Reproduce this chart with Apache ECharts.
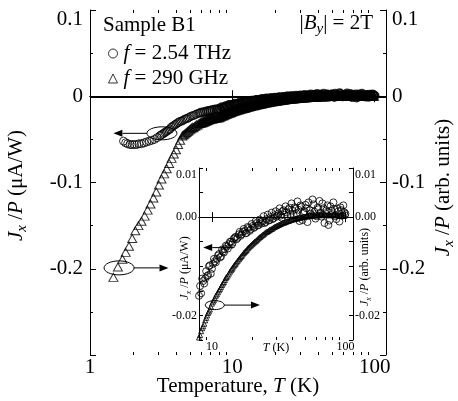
<!DOCTYPE html>
<html><head><meta charset="utf-8">
<script src="https://cdn.jsdelivr.net/npm/echarts@6/dist/echarts.min.js"></script>
<style>html,body{margin:0;padding:0;background:#fff}#c{width:458px;height:401px}</style>
</head><body><div id="c"></div>
<script>
// ---- data: 2.54 THz (circles) ----
const circT = [1.72,1.78,1.84,1.91,1.98,2.05,2.13,2.21,2.30,2.40,2.50,2.61,2.72,2.84,2.96,3.09,3.22,3.36,3.50,3.65,3.80,3.96,4.12,4.30,4.50,4.70,4.90,5.15,5.40,5.70,6.00,6.40,6.80,7.20,7.70,
 8.0,8.3,8.6,8.9,9.2,9.5,9.8,10.2,10.5,10.9,11.3,11.7,12.1,12.5,12.9,13.4,13.9,14.3,14.8,15.3,15.9,16.4,17.0,17.6,18.2,18.8,19.5,20.2,20.9,21.6,22.4,23.1,24.0,24.8,25.7,26.6,27.5,28.5,29.5,30.5,31.6,32.7,33.8,35.0,36.2,37.5,38.8,40.2,41.6,43.0,44.5,46.1,47.7,49.4,51.1,52.9,54.8,56.7,58.6,60.7,62.8,65.0,67.3,69.7,72.1,74.6,77.2,79.9,82.7,85.6,88.6,91.7,94.9,98.2,100];
const circV = [-0.052,-0.054,-0.055,-0.056,-0.056,-0.056,-0.056,-0.055,-0.055,-0.054,-0.053,-0.052,-0.051,-0.050,-0.048,-0.046,-0.044,-0.042,-0.040,-0.038,-0.035,-0.033,-0.031,-0.029,-0.028,-0.026,-0.025,-0.023,-0.022,-0.020,-0.019,-0.018,-0.017,-0.016,-0.015,
 -0.016,-0.0155,-0.013,-0.0125,-0.012,-0.010,-0.0115,-0.0095,-0.009,-0.0085,-0.0075,-0.008,-0.007,-0.0065,-0.006,-0.0055,-0.005,-0.0052,-0.0042,-0.0045,-0.0035,-0.0038,-0.003,-0.0028,-0.0032,-0.0022,-0.0025,-0.0018,-0.002,-0.0012,-0.0016,-0.001,-0.0008,-0.0012,-0.0004,-0.0007,0.0,-0.0004,0.0004,0.0001,0.0008,0.0003,0.0012,0.0005,0.0010,0.0016,0.0006,0.0013,0.0020,0.0008,0.0015,0.0024,-0.0006,0.0012,0.0018,0.0030,0.0007,0.0036,0.0011,0.0002,0.0016,0.0009,0.0028,-0.0012,0.0014,-0.0016,0.0022,0.0006,0.0016,-0.0004,0.0012,0.0020,0.0003,0.0010,0.0007];
const circT2 = [3.15,3.30,3.43,3.58,3.72,3.88,4.04,4.21,4.40,4.60,4.80,5.02,5.27,5.55,5.85,6.20,6.60,7.00,7.45,7.85,
 8.15,8.45,8.75,9.05,9.35,9.65,10.0,10.35,10.7,11.1,11.5,11.9,12.3,12.7,13.15,13.65,14.1,14.55,15.05,15.6,16.15,16.7,17.3,17.9,18.5,19.15,19.85,20.55,21.25,22.0,22.75,23.55,24.4,25.25,26.15,27.05,28.0,29.0,30.0,31.05,32.15,33.25,34.4,35.6,36.85,38.15,39.5,40.9,42.3,43.75,45.3,46.9,48.55,50.25,52.0,53.85,55.75,57.65,59.65,61.75,63.9,66.15,68.5,70.9,73.35,75.9,78.55,81.3,84.15,87.1,90.15,93.3,96.55,99.1];
const circV2 = [-0.045,-0.043,-0.041,-0.039,-0.036,-0.034,-0.032,-0.030,-0.029,-0.027,-0.026,-0.024,-0.0225,-0.021,-0.0195,-0.0185,-0.0175,-0.0165,-0.0155,-0.015,
 -0.0140,-0.0125,-0.0135,-0.0110,-0.0118,-0.0098,-0.0105,-0.0085,-0.0092,-0.0078,-0.0082,-0.0066,-0.0072,-0.0058,-0.0064,-0.0050,-0.0056,-0.0044,-0.0040,-0.0042,-0.0030,-0.0035,-0.0024,-0.0033,-0.0020,-0.0028,-0.0014,-0.0022,-0.0008,-0.0017,-0.0005,-0.0013,0.0002,-0.0010,0.0005,-0.0006,0.0009,-0.0002,0.0012,0.0003,0.0018,-0.0001,0.0014,0.0022,0.0002,0.0019,0.0028,0.0004,0.0017,0.0032,-0.0008,0.0021,0.0009,0.0025,-0.0010,0.0014,0.0004,0.0026,-0.0003,0.0019,0.0033,0.0001,0.0018,0.0008,0.0024,-0.0007,0.0013,0.0030,0.0002,0.0017,-0.0009,0.0014,0.0024,0.0004];
// ---- data: 290 GHz (triangles) ----
const triT = [1.46,1.57,1.69,1.78,1.88,1.98,2.08,2.19,2.30,2.42,2.54,2.66,2.79,2.92,3.05,3.18,3.32,3.46,3.60,3.74,3.88,4.02,4.16,4.30,4.45,4.60,4.76,4.92,5.08,5.25,5.42,5.60,5.80,6.00,6.20,6.40,6.60,6.85,7.10,7.35,7.65,
 8.0,8.3,8.6,8.9,9.2,9.5,9.8,10.2,10.5,10.9,11.3,11.7,12.1,12.5,12.9,13.4,13.9,14.3,14.8,15.3,15.9,16.4,17.0,17.6,18.2,18.8,19.5,20.2,20.9,21.6,22.4,23.1,24.0,24.8,25.7,26.6,27.5,28.5,29.5,30.5,31.6,32.7,33.8,35.0,36.2,37.5,38.8,40.2,41.6,43.0,44.5,46.1,47.7,49.4,51.1,52.9,54.8,56.7,58.6,60.7,62.8,65.0,67.3,69.7,72.1,74.6,77.2,79.9,82.7,85.6,88.6,91.7,94.9,98.2];
const triV = [-0.210,-0.198,-0.189,-0.181,-0.174,-0.165,-0.156,-0.150,-0.145,-0.139,-0.132,-0.125,-0.118,-0.111,-0.103,-0.096,-0.090,-0.084,-0.078,-0.072,-0.067,-0.062,-0.056,-0.051,-0.046,-0.044,-0.042,-0.040,-0.038,-0.036,-0.035,-0.033,-0.032,-0.031,-0.030,-0.029,-0.028,-0.027,-0.026,-0.0255,-0.025,
 -0.0245,-0.0232,-0.0222,-0.0210,-0.0200,-0.0192,-0.0182,-0.0172,-0.0165,-0.0157,-0.0149,-0.0142,-0.0135,-0.0128,-0.0122,-0.0115,-0.0108,-0.0103,-0.0097,-0.0092,-0.0086,-0.0081,-0.0076,-0.0071,-0.0067,-0.0062,-0.0058,-0.0054,-0.0050,-0.0047,-0.0043,-0.0040,-0.0036,-0.0033,-0.0030,-0.0028,-0.0025,-0.0023,-0.0020,-0.0018,-0.0016,-0.0014,-0.0012,-0.0011,-0.0009,-0.0008,-0.0006,-0.0005,-0.0004,-0.0003,-0.0002,-0.0001,0.0000,0.0001,0.0002,0.0002,0.0003,0.0003,0.0004,0.0004,0.0004,0.0005,0.0004,0.0005,0.0004,0.0005,0.0004,0.0004,0.0005,0.0004,0.0003,0.0004,0.0003,0.0003];
const triT2 = [4.52,4.68,4.84,5.00,5.16,5.33,5.51,5.70,5.90,6.10,6.30,6.50,6.72,6.97,7.22,7.50,7.82,
 8.15,8.45,8.75,9.05,9.35,9.65,10.0,10.35,10.7,11.1,11.5,11.9,12.3,12.7,13.15,13.65,14.1,14.55,15.05,15.6,16.15,16.7,17.3,17.9,18.5,19.15,19.85,20.55,21.25,22.0,22.75,23.55,24.4,25.25,26.15,27.05,28.0,29.0,30.0,31.05,32.15,33.25,34.4,35.6,36.85,38.15,39.5,40.9,42.3,43.75,45.3,46.9,48.55,50.25,52.0,53.85,55.75,57.65,59.65,61.75,63.9,66.15,68.5,70.9,73.35,75.9,78.55,81.3,84.15,87.1,90.15,93.3,96.55];
const triV2 = [-0.045,-0.043,-0.041,-0.039,-0.037,-0.0365,-0.0345,-0.0335,-0.0315,-0.0305,-0.0295,-0.0285,-0.0275,-0.0265,-0.026,-0.0255,-0.0248,
 -0.0240,-0.0226,-0.0217,-0.0205,-0.0195,-0.0188,-0.0176,-0.0169,-0.0160,-0.0153,-0.0146,-0.0138,-0.0132,-0.0124,-0.0119,-0.0111,-0.0106,-0.0100,-0.0095,-0.0089,-0.0084,-0.0079,-0.0073,-0.0069,-0.0064,-0.0060,-0.0056,-0.0052,-0.0049,-0.0045,-0.0041,-0.0038,-0.0035,-0.0031,-0.0029,-0.0026,-0.0024,-0.0021,-0.0019,-0.0017,-0.0015,-0.0013,-0.0011,-0.0010,-0.0008,-0.0007,-0.0005,-0.0004,-0.0003,-0.0002,-0.0001,0.0000,0.0001,0.0001,0.0002,0.0003,0.0003,0.0004,0.0003,0.0005,0.0004,0.0005,0.0004,0.0005,0.0004,0.0005,0.0004,0.0005,0.0004,0.0004,0.0003,0.0004,0.0003];
// ---- ticks / labels ----
const xDecades = [1, 10, 100];
const xDecadeLabels = ['1', '10', '100'];
const minorXTicks = [2,3,4,5,6,7,8,9,20,30,40,50,60,70,80,90];
const mainYTicks = [0.1, 0, -0.1, -0.2];
const mainYTickLabels = ['0.1', '0', '-0.1', '-0.2'];
const insetYTicks = [0.01, 0, -0.02];
const insetYTickLabels = ['0.01', '0.00', '-0.02'];
const insetMinT = 8;
const denseFromT = 6;

const FONT = 'Liberation Serif';
const pairs = (T, V, f) => T.map((t, i) => [t, V[i]]).filter(p => !f || f(p));
const both = (A, B, f) => pairs(A[0], A[1], f).concat(pairs(B[0], B[1], f));
const pick = (ticks, labels) => v => {
  const i = ticks.findIndex(t => Math.abs(t - v) < 1e-9);
  if (i < 0) return '';
  return i === 0 ? '{t|' + labels[i] + '}' : labels[i];
};
const decadeFmt = v => { const i = xDecades.findIndex(t => Math.abs(Math.log10(v) - Math.log10(t)) < 1e-6); return i >= 0 ? xDecadeLabels[i] : ''; };
const rich = fs => ({
  i: {fontFamily: FONT, fontStyle: 'italic', fontSize: fs, lineHeight: Math.round(fs * 1.3), color: '#000'},
  n: {fontFamily: FONT, fontSize: fs, lineHeight: Math.round(fs * 1.3), color: '#000'},
  s: {fontFamily: FONT, fontStyle: 'italic', fontSize: Math.round(fs * 0.7), verticalAlign: 'bottom', color: '#000'}
});
const line = {lineStyle: {color: '#000', width: 1}};

const chart = echarts.init(document.getElementById('c'), null, {renderer: 'canvas'});

function tickSeries(xi, yi, len) {
  return {
    type: 'custom', xAxisIndex: xi, yAxisIndex: yi, silent: true, clip: false, z: 10,
    data: minorXTicks.map(t => [t, 0]), encode: {x: 0, y: 1},
    renderItem: (params, api) => {
      const cs = params.coordSys;
      const x = Math.round(api.coord([api.value(0), api.value(1)])[0]) + 0.5;
      if (x < cs.x + 1 || x > cs.x + cs.width - 1) return null;
      const b = cs.y + cs.height, t = cs.y;
      return {type: 'group', children: [
        {type: 'line', shape: {x1: x, y1: b, x2: x, y2: b - len}, style: {stroke: '#000', lineWidth: 1}},
        {type: 'line', shape: {x1: x, y1: t, x2: x, y2: t + len}, style: {stroke: '#000', lineWidth: 1}}
      ]};
    }
  };
}

const sym = w => ({color: 'rgba(255,255,255,0)', borderColor: '#000', borderWidth: w});
const mainFS = 21, insetFS = 12;
const yLab = (fs, margin, pad) => ({
  fontFamily: FONT, fontSize: fs, color: '#000', margin: margin,
  rich: {t: {fontFamily: FONT, fontSize: fs, color: '#000', padding: [pad, 0, 0, 0]}}
});
const C = [circT, circV], C2 = [circT2, circV2], Tr = [triT, triV], Tr2 = [triT2, triV2];

const option = {
  animation: false,
  grid: [
    {left: 90, top: 10, width: 296, height: 345, containLabel: false, outerBoundsMode: 'none'},
    {left: 199, top: 168, width: 154, height: 172, containLabel: false, outerBoundsMode: 'none',
     show: true, backgroundColor: '#fff', borderWidth: 0, z: 5}
  ],
  legend: {
    left: 108, top: 43, orient: 'vertical', itemWidth: 9, itemHeight: 9, itemGap: 4, padding: 0,
    data: [{name: '2.54 THz', icon: 'circle'}, {name: '290 GHz', icon: 'triangle'}],
    itemStyle: {color: '#fff', borderColor: '#000', borderWidth: 1},
    formatter: n => '{i|f}{n| = ' + n + '}',
    textStyle: {rich: rich(mainFS), padding: [0, 0, 0, 1]}
  },
  xAxis: [
    {gridIndex: 0, type: 'log', min: 1, max: 120, position: 'bottom', axisLine: line,
     axisTick: {inside: true, length: 6, lineStyle: {color: '#000'}}, splitLine: {show: false},
     axisLabel: {formatter: decadeFmt, fontFamily: FONT, fontSize: mainFS, color: '#000', margin: 2},
     name: 'Temperature, {i|T}{n| (K)}', nameLocation: 'middle', nameGap: 18, nameMoveOverlap: false,
     nameTextStyle: {fontFamily: FONT, fontSize: mainFS, color: '#000', rich: rich(mainFS)}},
    {gridIndex: 0, type: 'log', min: 1, max: 120, position: 'top', axisLine: line,
     axisTick: {inside: true, length: 6, lineStyle: {color: '#000'}}, splitLine: {show: false}, axisLabel: {show: false}},
    {gridIndex: 1, type: 'log', min: insetMinT, max: 114, position: 'bottom', axisLine: line, z: 6,
     axisTick: {inside: true, length: 5, lineStyle: {color: '#000'}}, splitLine: {show: false},
     axisLabel: {formatter: decadeFmt, fontFamily: FONT, fontSize: insetFS, color: '#000', margin: 1},
     name: '{i|T}{n| (K)}', nameLocation: 'middle', nameGap: 0, nameMoveOverlap: false,
     nameTextStyle: {rich: rich(insetFS)}},
    {gridIndex: 1, type: 'log', min: insetMinT, max: 114, position: 'top', axisLine: line, z: 6,
     axisTick: {inside: true, length: 5, lineStyle: {color: '#000'}}, splitLine: {show: false}, axisLabel: {show: false}}
  ],
  yAxis: [
    {gridIndex: 0, type: 'value', min: -0.3, max: 0.1, interval: 0.1, position: 'left', axisLine: {show: true, ...line},
     axisTick: {show: true, inside: true, length: 6, lineStyle: {color: '#000'}},
     minorTick: {show: true, splitNumber: 2, length: 3, lineStyle: {color: '#000'}}, splitLine: {show: false},
     axisLabel: {formatter: pick(mainYTicks, mainYTickLabels), ...yLab(mainFS, 7, 18)},
     name: '{i|J}{s|x}{n| /}{i|P}{n| (μA/W)}', nameLocation: 'middle', nameRotate: 90, nameGap: 60, nameMoveOverlap: false,
     nameTextStyle: {rich: rich(mainFS), padding: [0, 6, 0, 0]}},
    {gridIndex: 0, type: 'value', min: -0.3, max: 0.1, interval: 0.1, position: 'right', axisLine: {show: true, ...line},
     axisTick: {show: true, inside: true, length: 6, lineStyle: {color: '#000'}},
     minorTick: {show: true, splitNumber: 2, length: 3, lineStyle: {color: '#000'}}, splitLine: {show: false},
     axisLabel: {formatter: pick(mainYTicks, mainYTickLabels), ...yLab(mainFS, 6, 18)},
     name: '{i|J}{s|x}{n| /}{i|P}{n| (arb. units)}', nameLocation: 'middle', nameRotate: 90, nameGap: 44, nameMoveOverlap: false,
     nameTextStyle: {rich: rich(mainFS), padding: [0, 10, 0, 0]}},
    {gridIndex: 1, type: 'value', min: -0.025, max: 0.01, interval: 0.005, position: 'left', axisLine: {show: true, ...line}, z: 6,
     axisTick: {show: true, inside: true, length: 4, lineStyle: {color: '#000'}}, splitLine: {show: false},
     axisLabel: {formatter: pick(insetYTicks, insetYTickLabels), ...yLab(insetFS, 2, 14)},
     name: '{i|J}{s|x}{n| /}{i|P}{n| (μA/W)}', nameLocation: 'middle', nameRotate: 90, nameGap: 6, nameMoveOverlap: false,
     nameTextStyle: {rich: rich(insetFS), padding: [0, 28, 0, 0]}},
    {gridIndex: 1, type: 'value', min: -0.025, max: 0.01, interval: 0.005, position: 'right', axisLine: {show: true, ...line}, z: 6,
     axisTick: {show: true, inside: true, length: 4, lineStyle: {color: '#000'}}, splitLine: {show: false},
     axisLabel: {formatter: pick(insetYTicks, insetYTickLabels), ...yLab(insetFS, 2, 14)},
     name: '{i|J}{s|x}{n| /}{i|P}{n| (arb. units)}', nameLocation: 'middle', nameRotate: 90, nameGap: 4, nameMoveOverlap: false,
     nameTextStyle: {rich: rich(insetFS), padding: [0, 26, 0, 0]}}
  ],
  series: [
    {name: '2.54 THz', type: 'scatter', xAxisIndex: 0, yAxisIndex: 0, symbol: 'circle', symbolSize: 8,
     itemStyle: sym(1), data: both(C, C2, p => p[0] < denseFromT),
     markLine: {silent: true, symbol: 'none', label: {show: false}, lineStyle: {color: '#000', width: 2, type: 'solid'}, data: [{yAxis: 0}]}},
    {name: '2.54 THz', type: 'scatter', xAxisIndex: 0, yAxisIndex: 0, symbol: 'circle', symbolSize: 8,
     itemStyle: sym(1.6), data: both(C, C2, p => p[0] >= denseFromT)},
    {name: '290 GHz', type: 'scatter', xAxisIndex: 0, yAxisIndex: 0, symbol: 'triangle', symbolSize: [9, 8],
     itemStyle: sym(1), data: both(Tr, Tr2, p => p[0] < denseFromT)},
    {name: '290 GHz', type: 'scatter', xAxisIndex: 0, yAxisIndex: 0, symbol: 'triangle', symbolSize: [9, 8],
     itemStyle: sym(1.6), data: both(Tr, Tr2, p => p[0] >= denseFromT)},
    {name: '290 GHz inset', type: 'scatter', xAxisIndex: 2, yAxisIndex: 2, symbol: 'triangle', symbolSize: 5, z: 7,
     itemStyle: sym(1), data: both(Tr, Tr2, p => p[0] >= insetMinT),
     markLine: {silent: true, symbol: 'none', label: {show: false}, lineStyle: {color: '#000', width: 1, type: 'solid'}, data: [{yAxis: 0}]}},
    {name: '2.54 THz inset', type: 'scatter', xAxisIndex: 2, yAxisIndex: 2, symbol: 'circle', symbolSize: 7, z: 7,
     itemStyle: sym(1), data: both(C, C2, p => p[0] >= insetMinT)},
    tickSeries(0, 0, 3),
    tickSeries(2, 2, 3)
  ]
};
chart.setOption(option);

// ---- annotations (anchored in data coordinates) ----
const annos = [
  {axes: {xAxisIndex: 0, yAxisIndex: 0}, ellipse: [3.2, -0.043], rx: 15, ry: 6.5, tip: [1.46, -0.043], side: 'left'},
  {axes: {xAxisIndex: 0, yAxisIndex: 0}, ellipse: [1.6, -0.199], rx: 15, ry: 7, tip: [3.56, -0.199], side: 'right'},
  {axes: {xAxisIndex: 2, yAxisIndex: 2}, ellipse: null, start: [14.5, -0.0062], tip: [8.6, -0.0062]},
  {axes: {xAxisIndex: 2, yAxisIndex: 2}, ellipse: [10.5, -0.0179], rx: 9.5, ry: 4.5, tip: [22.9, -0.0179], side: 'right'}
];
const g = [];
annos.forEach(a => {
  const tip = chart.convertToPixel(a.axes, a.tip);
  let sx, sy;
  if (a.ellipse) {
    const c = chart.convertToPixel(a.axes, a.ellipse);
    g.push({type: 'ellipse', shape: {cx: c[0], cy: c[1], rx: a.rx, ry: a.ry}, style: {fill: 'none', stroke: '#000', lineWidth: 1}, z: 100});
    sx = a.side === 'left' ? c[0] - a.rx : c[0] + a.rx; sy = tip[1];
  } else {
    const s = chart.convertToPixel(a.axes, a.start); sx = s[0]; sy = s[1];
  }
  const dir = tip[0] > sx ? 1 : -1, hl = 9, hw = 3.5;
  g.push({type: 'line', shape: {x1: sx, y1: sy, x2: tip[0] - dir * hl, y2: tip[1]}, style: {stroke: '#000', lineWidth: 1}, z: 100});
  g.push({type: 'polygon', shape: {points: [[tip[0], tip[1]], [tip[0] - dir * hl, tip[1] - hw], [tip[0] - dir * hl, tip[1] + hw]]}, style: {fill: '#000'}, z: 100});
});
g.push({type: 'text', x: 103, y: 25, style: {text: 'Sample B1', font: mainFS + 'px "' + FONT + '"', fill: '#000', verticalAlign: 'middle'}, z: 100});
g.push({type: 'text', x: 373, y: 23, style: {text: '{n||}{i|B}{s|y}{n|| = 2T}', rich: rich(mainFS), align: 'right', verticalAlign: 'middle'}, z: 100});
chart.setOption({graphic: g});
</script></body></html>
